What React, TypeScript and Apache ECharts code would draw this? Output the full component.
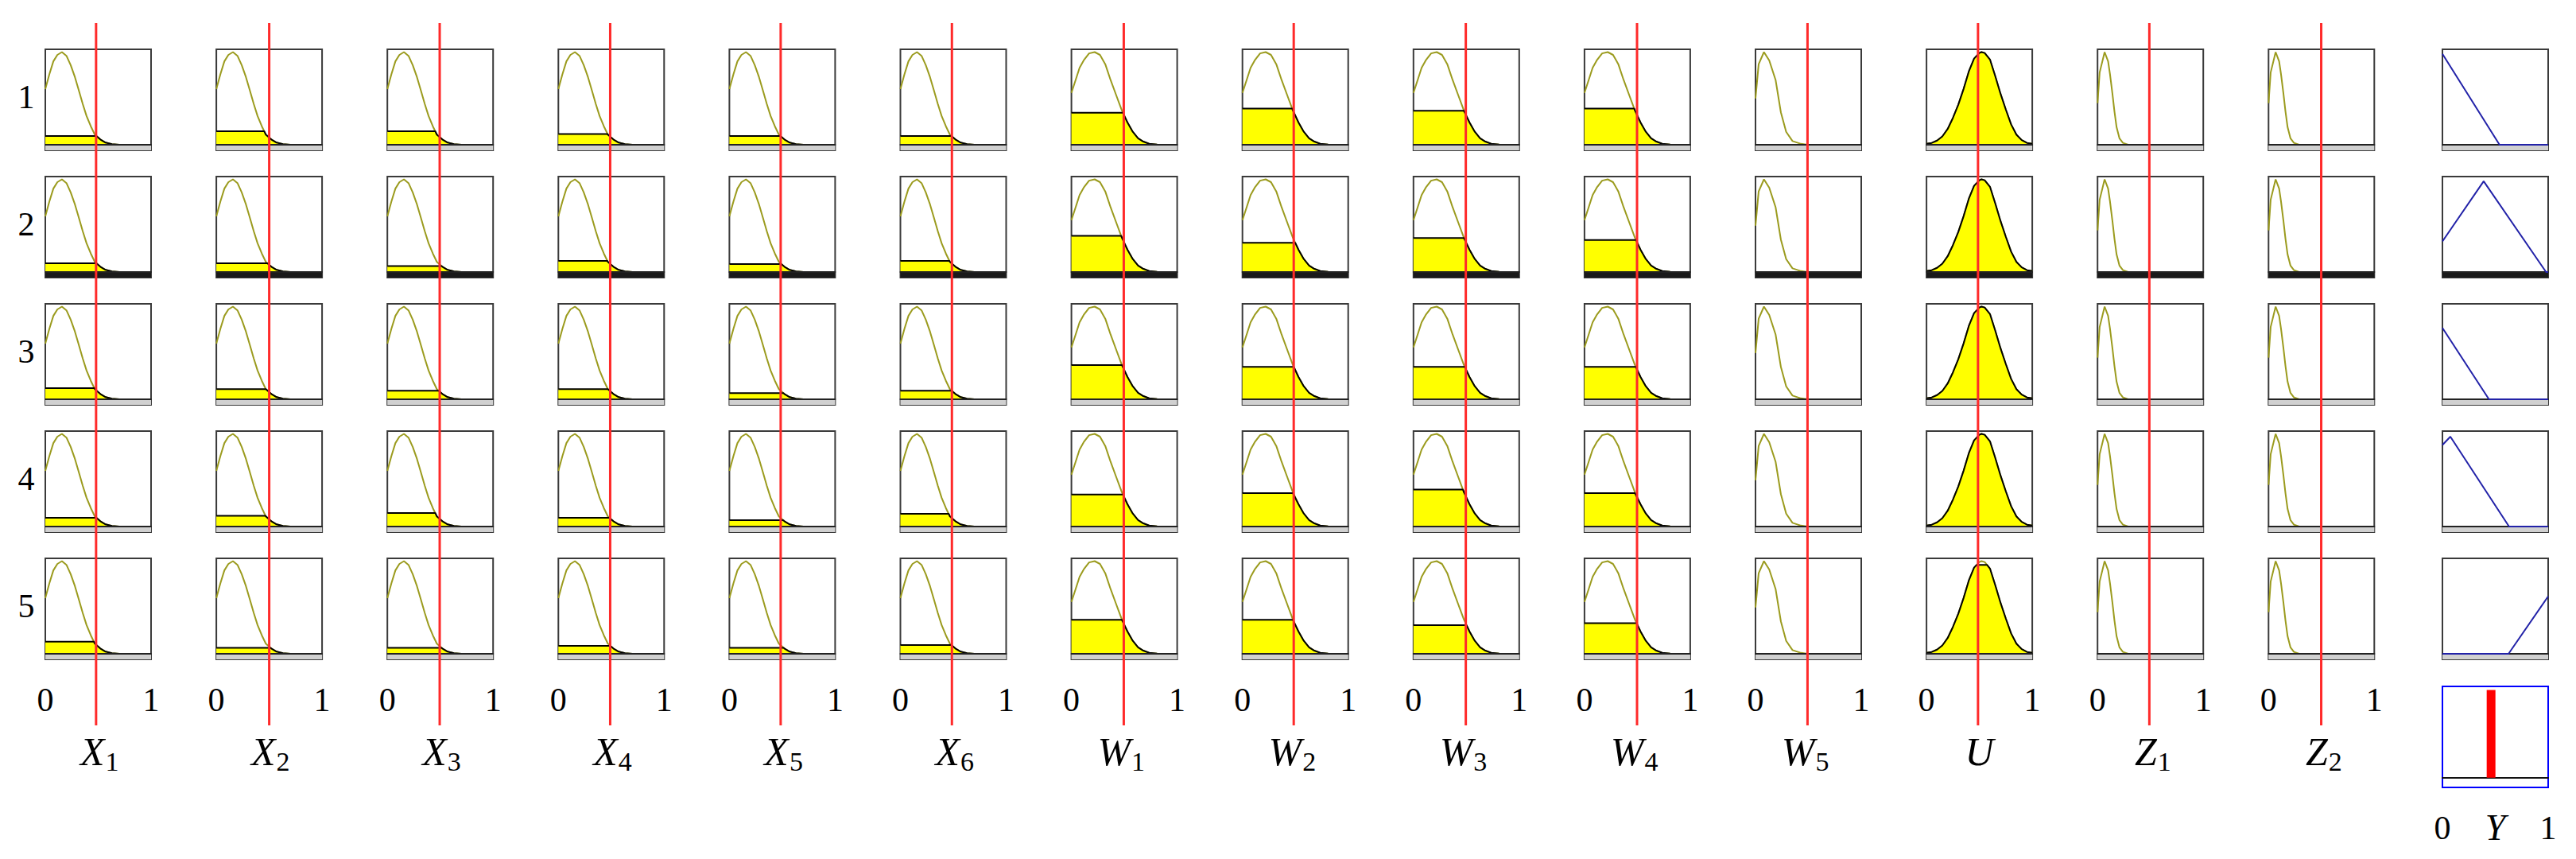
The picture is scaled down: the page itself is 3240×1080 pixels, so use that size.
import React, { useEffect, useRef } from "react";
import * as echarts from "echarts";

// ---------- data ----------
const colMain = ["X", "X", "X", "X", "X", "X", "W", "W", "W", "W", "W", "U", "Z", "Z"];
const colSub = ["1", "2", "3", "4", "5", "6", "1", "2", "3", "4", "5", "", "1", "2"];
const colShape = ["x", "x", "x", "x", "x", "x", "w", "w", "w", "w", "w5", "u", "z", "z"];
const inputValues = [0.48, 0.5, 0.495, 0.49, 0.485, 0.487, 0.495, 0.485, 0.495, 0.497, 0.492, 0.487, 0.49, 0.498];
const ruleLabels = ["1", "2", "3", "4", "5"];
const outputName = "Y";

// membership-function shapes: [x, membership]
const mfX: [number, number][] = [
  [0, 0.6], [0.038, 0.76], [0.076, 0.9], [0.114, 0.97], [0.157, 1.0], [0.2, 0.96], [0.24, 0.86],
  [0.28, 0.73], [0.316, 0.59], [0.354, 0.44], [0.39, 0.31], [0.43, 0.2], [0.468, 0.11],
  [0.52, 0.057], [0.57, 0.023], [0.63, 0.006], [0.7, 0],
];
const mfW: [number, number][] = [
  [0, 0.56], [0.04, 0.7], [0.077, 0.83], [0.116, 0.91], [0.167, 0.986], [0.22, 1.0], [0.27, 0.97],
  [0.32, 0.87], [0.37, 0.7], [0.425, 0.53], [0.477, 0.37], [0.53, 0.24], [0.58, 0.14],
  [0.63, 0.07], [0.68, 0.034], [0.735, 0.011], [0.81, 0.003], [0.9, 0],
];
const mfW5: [number, number][] = [
  [0, 0.5], [0.03, 0.87], [0.08, 1.0], [0.13, 0.91], [0.19, 0.7], [0.24, 0.35], [0.29, 0.14],
  [0.35, 0.04], [0.43, 0.01], [0.49, 0],
];
const mfU: [number, number][] = [
  [0, 0.01], [0.05, 0.02], [0.1, 0.045], [0.15, 0.09], [0.2, 0.17], [0.25, 0.29], [0.3, 0.43],
  [0.35, 0.6], [0.4, 0.79], [0.45, 0.93], [0.5, 0.99], [0.52, 1.0], [0.55, 0.99], [0.6, 0.92],
  [0.65, 0.74], [0.7, 0.55], [0.75, 0.38], [0.8, 0.22], [0.85, 0.11], [0.9, 0.05], [0.95, 0.02], [1, 0.01],
];
const mfZ: [number, number][] = [
  [0, 0.45], [0.02, 0.78], [0.067, 1.0], [0.1, 0.9], [0.118, 0.76], [0.14, 0.56], [0.16, 0.36],
  [0.18, 0.19], [0.207, 0.07], [0.24, 0.02], [0.29, 0],
];
const shapes: Record<string, [number, number][]> = { x: mfX, w: mfW, w5: mfW5, u: mfU, z: mfZ };

// firing level (height of the yellow area) per rule (row) and input (column)
const firingLevels: number[][] = [
  [0.095, 0.147, 0.147, 0.116, 0.095, 0.095, 0.345, 0.39, 0.366, 0.39, 0, 1, 0, 0],
  [0.095, 0.095, 0.065, 0.12, 0.086, 0.12, 0.39, 0.315, 0.366, 0.345, 0, 1, 0, 0],
  [0.12, 0.11, 0.093, 0.11, 0.067, 0.093, 0.37, 0.35, 0.35, 0.35, 0, 1, 0, 0],
  [0.095, 0.116, 0.147, 0.095, 0.069, 0.138, 0.345, 0.36, 0.4, 0.36, 0, 1, 0, 0],
  [0.13, 0.065, 0.065, 0.086, 0.065, 0.095, 0.366, 0.366, 0.31, 0.33, 0, 0.96, 0, 0],
];

// output membership functions per rule
const outputMfs: [number, number][][] = [
  [[0, 0.98], [0.54, 0], [1, 0]],
  [[0, 0.33], [0.39, 0.98], [0.98, 0], [1, 0]],
  [[0, 0.77], [0.44, 0], [1, 0]],
  [[0, 0.88], [0.075, 0.97], [0.63, 0], [1, 0]],
  [[0, 0], [0.625, 0], [1, 0.62]],
];
const outputValue = 0.46;

// ---------- layout / style ----------
const BOX_LEFT0 = 57;
const COL_PITCH = 215.1;
const BOX_W = 133;
const BOX_H = 127;
const ROW_TOP0 = 62;
const ROW_PITCH = 160;
const OUT_LEFT = 3072;
const AGG_TOP = 863;
const RED_TOP = 29;
const RED_BOTTOM = 912;
const Y_MIN = -0.06;
const Y_MAX = 1.03;
const AGG_Y_MIN = -0.11;
const AGG_Y_MAX = 1.04;
const SERIF = "'Liberation Serif', 'DejaVu Serif', serif";
const rowBandColors = ["#d0d0d0", "#1a1a1a", "#d0d0d0", "#d0d0d0", "#d0d0d0"];

function clipToLevel(shape: [number, number][], level: number): [number, number][] {
  const out: [number, number][] = [];
  for (let i = 0; i < shape.length; i++) {
    const [x, y] = shape[i];
    if (i > 0) {
      const [px, py] = shape[i - 1];
      if ((py - level) * (y - level) < 0) {
        const t = (level - py) / (y - py);
        out.push([px + t * (x - px), level]);
      }
    }
    out.push([x, Math.min(y, level)]);
  }
  return out;
}

function buildOption() {
  const grid: any[] = [];
  const xAxis: any[] = [];
  const yAxis: any[] = [];
  const series: any[] = [];
  const graphic: any[] = [];

  const addPanel = (g: any, xa: any, ya: any) => {
    const i = grid.length;
    grid.push(g);
    xAxis.push({ ...xa, gridIndex: i });
    yAxis.push({ ...ya, gridIndex: i });
    return i;
  };
  const boxLeft = (c: number) => BOX_LEFT0 + c * COL_PITCH;
  const rowTop = (r: number) => ROW_TOP0 + r * ROW_PITCH;
  const valueX = (showLabels: boolean, margin: number, lineColor: string) => ({
    type: "value",
    min: 0,
    max: 1,
    interval: 1,
    z: 5,
    axisLine: { show: true, onZero: true, lineStyle: { color: lineColor, width: 2 } },
    axisTick: { show: false },
    splitLine: { show: false },
    axisLabel: { show: showLabels, margin, fontSize: 42, fontFamily: SERIF, color: "#000" },
  });
  const valueY = (min: number, max: number) => ({ type: "value", min, max, show: false, splitLine: { show: false } });
  const band = (r: number) => ({
    silent: true,
    itemStyle: { color: rowBandColors[r] },
    data: [[{ yAxis: Y_MIN }, { yAxis: 0 }]],
  });
  const boxGrid = (left: number, top: number, color = "#3a3a3a") => ({
    left,
    top,
    width: BOX_W,
    height: BOX_H,
    show: true,
    borderColor: color,
    borderWidth: 2,
    backgroundColor: "transparent",
  });

  // input panels
  for (let r = 0; r < ruleLabels.length; r++) {
    for (let c = 0; c < colMain.length; c++) {
      const idx = addPanel(
        boxGrid(boxLeft(c), rowTop(r)),
        valueX(r === ruleLabels.length - 1, 30, "#222"),
        valueY(Y_MIN, Y_MAX)
      );
      const shape = shapes[colShape[c]];
      series.push({
        type: "line",
        xAxisIndex: idx,
        yAxisIndex: idx,
        data: shape,
        symbol: "none",
        silent: true,
        z: 2,
        lineStyle: { color: "#9b9b1e", width: 2 },
        markArea: band(r),
      });
      const level = firingLevels[r][c];
      if (level > 0) {
        series.push({
          type: "line",
          xAxisIndex: idx,
          yAxisIndex: idx,
          data: clipToLevel(shape, level),
          symbol: "none",
          silent: true,
          z: 3,
          lineStyle: { color: "#000", width: 2 },
          areaStyle: { color: "#ffff00", opacity: 1 },
        });
      }
    }
  }

  // output panels (rule consequents)
  for (let r = 0; r < outputMfs.length; r++) {
    const idx = addPanel(boxGrid(OUT_LEFT, rowTop(r)), valueX(false, 30, "#222"), valueY(Y_MIN, Y_MAX));
    series.push({
      type: "line",
      xAxisIndex: idx,
      yAxisIndex: idx,
      data: outputMfs[r],
      symbol: "none",
      silent: true,
      z: 6,
      lineStyle: { color: "#2222a8", width: 2 },
      markArea: band(r),
    });
  }

  // aggregate panel
  {
    const idx = addPanel(
      boxGrid(OUT_LEFT, AGG_TOP, "#0000ff"),
      valueX(true, 30, "#111"),
      valueY(AGG_Y_MIN, AGG_Y_MAX)
    );
    series.push({
      type: "line",
      xAxisIndex: idx,
      yAxisIndex: idx,
      data: [
        [outputValue, 0],
        [outputValue, 1],
      ],
      symbol: "none",
      silent: true,
      z: 6,
      lineStyle: { color: "#ff0000", width: 11, cap: "butt" },
    });
  }

  // red input-value lines spanning each column
  for (let c = 0; c < colMain.length; c++) {
    const idx = addPanel(
      { left: boxLeft(c), top: RED_TOP, width: BOX_W, height: RED_BOTTOM - RED_TOP, show: false },
      { type: "value", min: 0, max: 1, show: false, splitLine: { show: false } },
      valueY(0, 1)
    );
    series.push({
      type: "line",
      xAxisIndex: idx,
      yAxisIndex: idx,
      data: [
        [inputValues[c], 0],
        [inputValues[c], 1],
      ],
      symbol: "none",
      silent: true,
      z: 10,
      lineStyle: { color: "#ff2a2a", width: 3 },
    });
  }

  const textStyle = (text: string, size: number, italic: boolean, align: string) => ({
    text,
    fontSize: size,
    fontStyle: italic ? "italic" : "normal",
    fontFamily: SERIF,
    fill: "#000",
    align,
    verticalAlign: "middle",
    textAlign: align,
    textVerticalAlign: "middle",
  });

  // row labels
  ruleLabels.forEach((lab, r) => {
    graphic.push({ type: "text", x: 33, y: rowTop(r) + 60, silent: true, style: textStyle(lab, 42, false, "center") });
  });

  // column labels
  colMain.forEach((m, c) => {
    const cx = boxLeft(c) + BOX_W / 2;
    const hasSub = colSub[c] !== "";
    graphic.push({
      type: "text",
      x: hasSub ? cx + 8 : cx,
      y: 945,
      silent: true,
      style: textStyle(m, 50, true, hasSub ? "right" : "center"),
    });
    if (hasSub) {
      graphic.push({ type: "text", x: cx + 9, y: 957, silent: true, style: textStyle(colSub[c], 34, false, "left") });
    }
  });

  // output label
  graphic.push({
    type: "text",
    x: OUT_LEFT + BOX_W / 2,
    y: 1040,
    silent: true,
    style: textStyle(outputName, 46, true, "center"),
  });

  return {
    animation: false,
    backgroundColor: "#ffffff",
    grid,
    xAxis,
    yAxis,
    series,
    graphic,
  };
}

export default function App() {
  const ref = useRef<HTMLDivElement>(null);
  useEffect(() => {
    document.body.style.margin = "0";
    if (!ref.current) return;
    const chart = echarts.init(ref.current, undefined, { renderer: "svg" });
    chart.setOption(buildOption() as any);
    return () => chart.dispose();
  }, []);
  return <div ref={ref} style={{ width: 3240, height: 1080 }} />;
}
